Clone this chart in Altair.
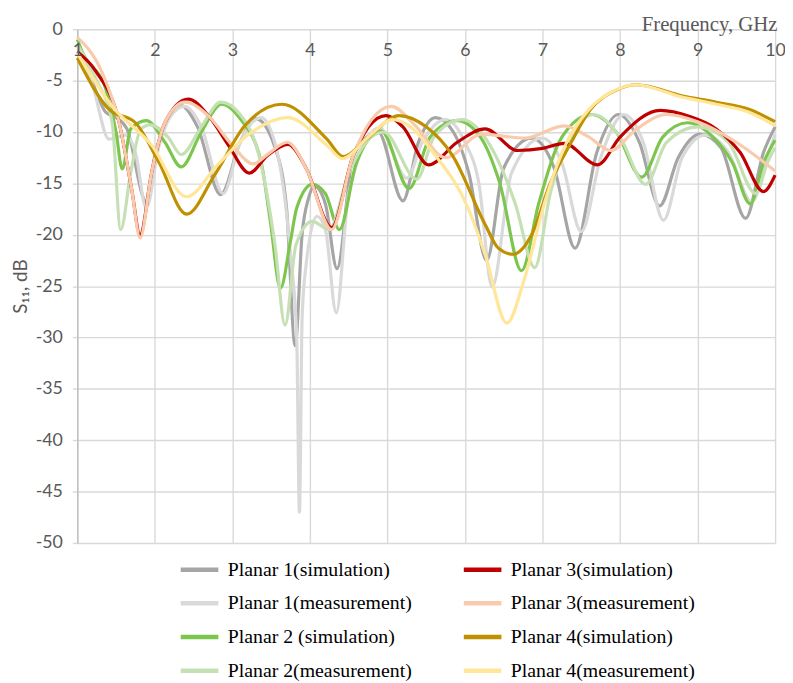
import altair as alt
import pandas as pd

# ---------------- data ----------------
p1_sim_f = [1.0, 1.15, 1.37, 1.5, 1.64, 1.89, 2.0, 2.17, 2.33, 2.55, 2.85, 3.1, 3.3, 3.55, 3.7, 3.81, 3.9, 3.98, 4.06, 4.2, 4.35, 4.56, 4.88, 5.2, 5.4, 5.62, 5.85, 6.05, 6.28, 6.5, 6.86, 7.15, 7.42, 7.7, 7.98, 8.25, 8.51, 8.75, 9.03, 9.3, 9.62, 9.85, 10.0]
p1_sim_v = [-1.5, -4.2, -8.1, -8.6, -9.7, -16.8, -12.3, -8.7, -7.4, -9.5, -16.1, -11.0, -8.7, -11.5, -17.5, -30.8, -19.9, -16.5, -15.3, -17.0, -23.3, -12.3, -10.0, -16.7, -11.0, -8.6, -10.0, -14.0, -22.5, -13.5, -10.6, -13.5, -21.3, -12.0, -8.3, -11.0, -17.2, -12.5, -10.2, -11.5, -18.4, -12.0, -9.5]

p1_mea_f = [1.0, 1.2, 1.41, 1.62, 1.75, 1.89, 2.05, 2.2, 2.38, 2.6, 2.88, 3.1, 3.37, 3.58, 3.75, 3.83, 3.865, 3.9, 3.95, 4.09, 4.2, 4.34, 4.5, 4.9, 5.25, 5.45, 5.75, 6.0, 6.18, 6.35, 6.6, 6.99, 7.25, 7.5, 7.75, 8.05, 8.3, 8.56, 8.8, 9.1, 9.4, 9.7, 9.9, 10.0]
p1_mea_v = [-1.5, -5.5, -10.7, -10.3, -12.0, -17.4, -11.5, -8.5, -7.5, -9.5, -16.0, -11.0, -8.6, -12.0, -21.9, -30.0, -47.0, -28.0, -23.0, -18.2, -19.5, -27.6, -16.0, -9.6, -14.5, -11.0, -8.8, -11.0, -15.0, -25.1, -14.0, -10.6, -13.0, -19.7, -12.5, -8.3, -11.0, -18.6, -12.5, -10.3, -12.0, -16.8, -12.5, -10.2]

p2_sim_f = [1.0, 1.07, 1.37, 1.5, 1.58, 1.69, 1.89, 2.13, 2.34, 2.6, 2.86, 3.1, 3.37, 3.49, 3.62, 3.75, 3.83, 4.03, 4.2, 4.38, 4.6, 4.92, 5.28, 5.55, 5.9, 6.2, 6.45, 6.73, 6.95, 7.25, 7.63, 7.95, 8.28, 8.55, 8.87, 9.2, 9.45, 9.68, 9.85, 10.0]
p2_sim_v = [-1.0, -2.3, -5.9, -10.0, -13.6, -9.7, -8.9, -11.0, -13.4, -10.0, -7.3, -8.7, -12.9, -18.7, -25.2, -20.6, -17.4, -15.1, -16.0, -19.5, -13.0, -9.9, -15.5, -10.5, -8.9, -10.5, -15.0, -23.5, -17.0, -10.5, -8.3, -10.0, -14.4, -10.5, -9.1, -10.5, -13.0, -17.0, -13.0, -10.8]

p2_mea_f = [1.0, 1.25, 1.45, 1.56, 1.69, 1.82, 1.94, 2.17, 2.34, 2.6, 2.85, 3.1, 3.35, 3.55, 3.68, 3.82, 4.03, 4.25, 4.5, 4.95, 5.38, 5.6, 5.96, 6.3, 6.65, 6.9, 7.1, 7.4, 7.66, 8.0, 8.33, 8.6, 9.0, 9.4, 9.75, 9.9, 10.0]
p2_mea_v = [-1.5, -5.0, -9.1, -19.5, -13.9, -9.7, -9.3, -10.5, -12.2, -9.5, -7.1, -8.3, -12.5, -21.0, -28.8, -21.0, -18.7, -19.5, -14.0, -10.0, -14.6, -10.5, -8.8, -11.0, -17.0, -23.2, -16.0, -10.0, -8.3, -10.5, -15.1, -11.0, -9.5, -11.0, -16.0, -13.0, -11.5]

p3_sim_f = [1.0, 1.24, 1.54, 1.7, 1.81, 1.96, 2.13, 2.43, 2.7, 2.95, 3.22, 3.45, 3.72, 3.95, 4.28, 4.55, 4.98, 5.2, 5.53, 5.9, 6.26, 6.68, 7.0, 7.28, 7.71, 8.0, 8.52, 8.9, 9.24, 9.55, 9.85, 10.0]
p3_sim_v = [-2.2, -4.1, -9.1, -15.5, -20.0, -13.9, -9.1, -6.8, -8.5, -11.3, -14.0, -12.3, -11.2, -13.5, -19.3, -12.5, -8.4, -9.5, -13.2, -11.0, -9.7, -11.8, -11.6, -11.1, -13.2, -10.5, -7.9, -8.5, -9.7, -12.0, -15.8, -14.2]

p3_mea_f = [1.0, 1.32, 1.54, 1.7, 1.81, 1.96, 2.13, 2.39, 2.7, 3.0, 3.27, 3.45, 3.71, 3.95, 4.28, 4.55, 5.05, 5.35, 5.75, 6.22, 6.77, 7.28, 7.6, 7.88, 8.2, 8.6, 9.0, 9.5, 10.0]
p3_mea_v = [-0.8, -4.2, -9.1, -15.5, -20.3, -13.9, -9.1, -7.1, -8.5, -11.3, -13.1, -12.2, -11.0, -13.5, -19.5, -12.5, -7.5, -9.3, -12.5, -10.2, -10.6, -9.4, -10.5, -11.8, -9.8, -8.3, -9.0, -11.0, -13.8]

p4_sim_f = [1.0, 1.41, 1.75, 2.05, 2.41, 2.77, 3.16, 3.64, 4.22, 4.43, 4.73, 5.15, 5.5, 5.84, 6.26, 6.43, 6.62, 6.86, 7.1, 7.37, 7.62, 7.96, 8.21, 8.81, 9.24, 9.67, 10.0]
p4_sim_v = [-2.8, -7.8, -9.1, -12.9, -18.0, -14.2, -9.4, -7.3, -10.7, -12.4, -10.7, -8.4, -9.5, -12.3, -19.0, -21.3, -21.9, -20.0, -15.0, -11.0, -7.8, -5.9, -5.4, -6.5, -7.1, -7.8, -9.0]

p4_mea_f = [1.0, 1.45, 1.96, 2.41, 2.81, 3.2, 3.71, 4.22, 4.42, 4.75, 5.07, 5.24, 5.62, 6.04, 6.26, 6.54, 6.77, 7.03, 7.3, 7.6, 7.95, 8.2, 8.8, 9.24, 9.67, 10.0]
p4_mea_v = [-2.3, -7.5, -11.3, -16.3, -13.2, -10.3, -8.6, -11.3, -12.6, -10.5, -8.8, -9.2, -12.3, -17.4, -21.9, -28.6, -24.2, -16.8, -11.2, -7.8, -5.9, -5.4, -6.6, -7.3, -8.1, -9.4]

# series in drawing order (later ones on top); legend fills column by column
series_names = [
    "Planar 1(simulation)", "Planar 1(measurement)",
    "Planar 2 (simulation)", "Planar 2(measurement)",
    "Planar 3(simulation)", "Planar 3(measurement)",
    "Planar 4(simulation)", "Planar 4(measurement)",
]
series_f = [p1_sim_f, p1_mea_f, p2_sim_f, p2_mea_f, p3_sim_f, p3_mea_f, p4_sim_f, p4_mea_f]
series_v = [p1_sim_v, p1_mea_v, p2_sim_v, p2_mea_v, p3_sim_v, p3_mea_v, p4_sim_v, p4_mea_v]
series_colors = ["#a5a5a5", "#d9d9d9", "#7dc64e", "#c5e0b4",
                 "#c00000", "#f8cbad", "#bf9000", "#ffe699"]

x_ticks = list(range(1, 11))
y_ticks = list(range(-50, 1, 5))

rows = []
for name, fs, vs in zip(series_names, series_f, series_v):
    for f, v in zip(fs, vs):
        rows.append({"series": name, "f": f, "v": v})
df = pd.DataFrame(rows)

x_scale = alt.Scale(domain=[1, 10], nice=False, zero=False)
y_scale = alt.Scale(domain=[-50, 0], nice=False)
GRID = "#d9d9d9"
TXT = "#595959"

y_axis = alt.Axis(values=y_ticks, labelExpr="'' + datum.value",
                  labelFont="Lato", labelFontSize=18,
                  labelColor=TXT, labelPadding=10,
                  ticks=True, tickSize=5, tickColor=GRID, tickWidth=1.4,
                  domain=True, domainColor="#bfbfbf", domainWidth=1.4,
                  grid=True, gridColor=GRID, gridWidth=1.4,
                  title="S\u2081\u2081, dB", titleFont="Lato", titleFontSize=19,
                  titleFontWeight="normal", titleColor=TXT,
                  titlePadding=5)

lines = alt.Chart(df).mark_line(interpolate="monotone", strokeWidth=3.2).encode(
    x=alt.X("f:Q", scale=x_scale,
            axis=alt.Axis(orient="top", values=x_ticks, labels=False, ticks=False,
                          domain=False, grid=True, gridColor=GRID, gridWidth=1.4,
                          title=None)),
    y=alt.Y("v:Q", scale=y_scale, axis=y_axis),
    color=alt.Color("series:N",
                    scale=alt.Scale(domain=series_names, range=series_colors),
                    legend=alt.Legend(orient="none", legendX=111.5, legendY=534,
                                      columns=2, title=None,
                                      symbolType="M-2,0H2", symbolSize=361,
                                      symbolStrokeWidth=4.5,
                                      labelFont="Liberation Serif", labelFontSize=20,
                                      labelColor="#000000", labelOffset=16.5,
                                      labelLimit=400, rowPadding=12,
                                      columnPadding=43, padding=0)),
)

# frequency labels drawn above the curves (as in the reference)
freq_labels = alt.Chart(df).mark_point(opacity=0).encode(
    x=alt.X("f:Q", scale=x_scale,
            axis=alt.Axis(orient="top", values=x_ticks, labelFlush=False,
                          ticks=False, domain=False, grid=False, zindex=1,
                          labelPadding=-31,
                          labelFont="Lato", labelFontSize=18, labelColor=TXT,
                          title="Frequency, GHz", titleX=707, titleY=1,
                          titleAlign="right", titleBaseline="alphabetic",
                          titleFont="Liberation Serif", titleFontSize=21,
                          titleFontWeight="normal", titleColor=TXT)),
    y=alt.Y("v:Q", scale=y_scale, axis=y_axis),
)

chart = alt.layer(lines, freq_labels).resolve_axis(x="independent").properties(
    width=705, height=519,
    autosize=alt.AutoSizeParams(type="none"),
    padding={"left": 70, "top": 18, "right": 10, "bottom": 138},
).configure_view(strokeWidth=0)

chart.save("out.html", embed_options={"renderer": "svg", "actions": False})
